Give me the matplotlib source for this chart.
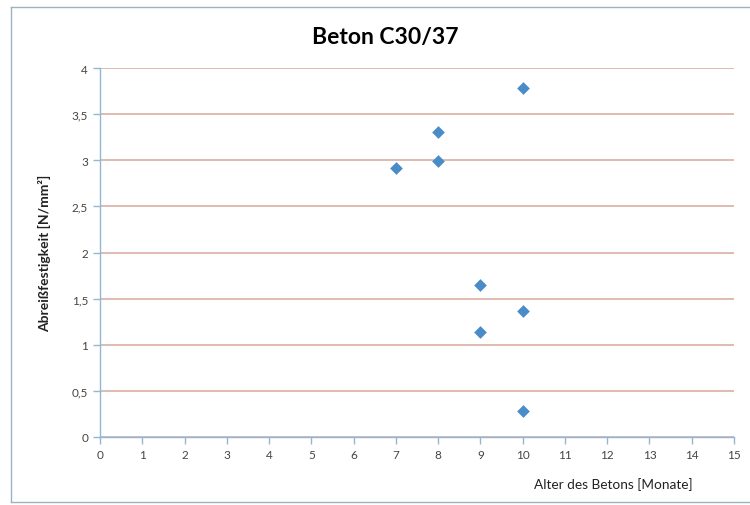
import matplotlib.pyplot as plt
from matplotlib.lines import Line2D

# Daten: Alter des Betons [Monate] und Abreißfestigkeit [N/mm²]
alter = [7, 8, 8, 9, 9, 10, 10, 10]
festigkeit = [2.92, 3.31, 2.99, 1.65, 1.14, 3.78, 1.37, 0.28]

x_ticks = list(range(0, 16))
y_ticks = [0, 0.5, 1, 1.5, 2, 2.5, 3, 3.5, 4]
y_tick_labels = ['0', '0,5', '1', '1,5', '2', '2,5', '3', '3,5', '4']

plt.rcParams['font.family'] = ['Lato', 'DejaVu Sans']

fig = plt.figure(figsize=(7.5, 5.06), dpi=100)
ax = fig.add_axes([0.1333, 0.1344, 0.8454, 0.7292])

# Rahmen um das Diagramm
border = '#9bb3c4'
fig.add_artist(Line2D([11 / 750, 11 / 750], [1 - 8 / 506, 1 - 503 / 506], color=border, lw=1))
fig.add_artist(Line2D([11 / 750, 1.0], [1 - 8 / 506, 1 - 8 / 506], color=border, lw=1))
fig.add_artist(Line2D([11 / 750, 1.0], [1 - 503 / 506, 1 - 503 / 506], color=border, lw=1))

ax.scatter(alter, festigkeit, marker='D', s=42, color='#4a8cc8', zorder=3, linewidths=0)

ax.set_xlim(0, 15)
ax.set_ylim(0, 4)
ax.set_xticks(x_ticks)
ax.set_yticks(y_ticks)
ax.set_yticklabels(y_tick_labels)

ax.yaxis.grid(True, color='#d6a898', lw=1.1)
ax.set_axisbelow(True)

for side in ['top', 'right']:
    ax.spines[side].set_visible(False)
for side in ['left', 'bottom']:
    ax.spines[side].set_color('#8fb8d4')
    ax.spines[side].set_linewidth(1)

ax.tick_params(axis='both', colors='#8fb8d4', labelcolor='#444444', labelsize=8.5, length=5, width=1, direction='out')
ax.tick_params(axis='x', pad=4)

fig.text(0.513, 0.925, 'Beton C30/37', ha='center', va='center', fontsize=16.5, fontweight='bold')
fig.text(0.06, 0.50, 'Abreißfestigkeit [N/mm²]', rotation=90, ha='center', va='center', fontsize=10, fontweight='bold', color='#222222')
fig.text(0.818, 0.0415, 'Alter des Betons [Monate]', ha='center', va='center', fontsize=9.8, color='#222222')

plt.savefig('out.png', dpi=100)
